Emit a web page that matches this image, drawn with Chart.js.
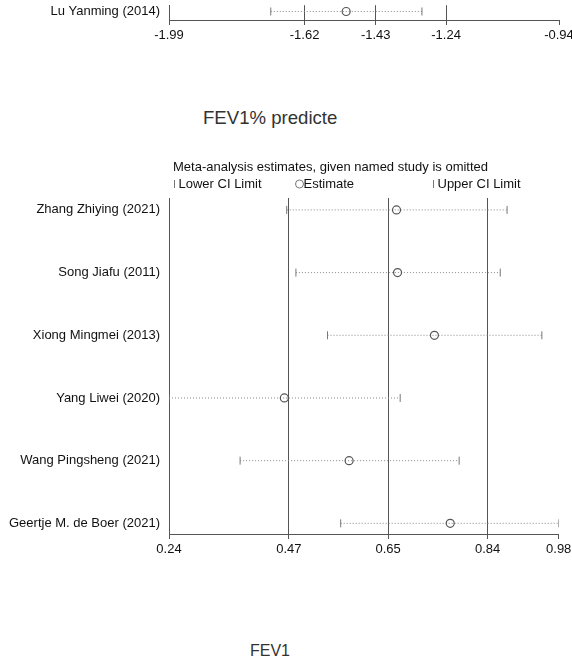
<!DOCTYPE html>
<html>
<head>
<meta charset="utf-8">
<title>Sensitivity analysis - FEV1% predicted</title>
<script src="https://cdn.jsdelivr.net/npm/chart.js@4.4.1/dist/chart.umd.min.js"></script>
<style>
  body { margin: 0; background: #fff; width: 572px; height: 662px; position: relative; overflow: hidden;
         font-family: "Liberation Sans", Arial, sans-serif; }
  .wrap { position: absolute; left: 0; }
  .caption { position: absolute; color: #333; white-space: nowrap; line-height: 1; }
</style>
</head>
<body>
<div class="wrap" style="top:0;"><canvas id="topChart" width="572" height="46"></canvas></div>
<div class="caption" style="left:203px; top:109px; font-size:18.6px;">FEV1% predicte</div>
<div class="wrap" style="top:150px;"><canvas id="mainChart" width="572" height="420"></canvas></div>
<div class="caption" style="left:250px; top:643px; font-size:16px;">FEV1</div>
<script>
// previous panel, only its last row is still visible at the top
const topStudies = ['Lu Yanming (2014)'];
const topEstimate = [-1.513];
const topLower = [-1.716];
const topUpper = [-1.309];
const topTickValues = [-1.99, -1.625, -1.4335, -1.244, -0.94];
const topTickLabels = ['-1.99', '-1.62', '-1.43', '-1.24', '-0.94'];

// FEV1% predicted panel
const studies = [
  'Zhang Zhiying (2021)',
  'Song Jiafu (2011)',
  'Xiong Mingmei (2013)',
  'Yang Liwei (2020)',
  'Wang Pingsheng (2021)',
  'Geertje M. de Boer (2021)'
];
const estimate = [0.672, 0.674, 0.744, 0.459, 0.582, 0.774];
const lowerCI  = [0.4635, 0.481, 0.541, 0.24, 0.375, 0.566];
const upperCI  = [0.882, 0.869, 0.948, 0.679, 0.791, 0.98];
const tickValues = [0.24, 0.4675, 0.656, 0.845, 0.98];
const tickLabels = ['0.24', '0.47', '0.65', '0.84', '0.98'];
const plotTitle = 'Meta-analysis estimates, given named study is omitted';
const legendLabels = ['Lower CI Limit', 'Estimate', 'Upper CI Limit'];

const FONT = '"Liberation Sans", Arial, sans-serif';
const AXIS = '#555';
const CI = '#8a8a8a';

// one dotted segment per study, split by null points
function ciPoints(lo, hi) {
  const pts = [];
  lo.forEach((l, i) => {
    pts.push({ x: l, y: i }, { x: hi[i], y: i }, { x: null, y: i });
  });
  return pts;
}

function buildChart(canvas, cfg) {
  const xMin = cfg.ticks[0], xMax = cfg.ticks[cfg.ticks.length - 1];
  return new Chart(canvas, {
    type: 'scatter',
    data: {
      datasets: [
        {
          data: cfg.est.map((v, i) => ({ x: v, y: i })),
          pointStyle: 'circle',
          pointRadius: 4,
          pointBorderWidth: 1.2,
          pointBorderColor: '#555',
          pointBackgroundColor: 'rgba(0,0,0,0)'
        },
        {
          data: ciPoints(cfg.lo, cfg.hi),
          showLine: true,
          spanGaps: false,
          borderColor: CI,
          borderWidth: 1,
          borderDash: [1, 2],
          pointStyle: 'line',
          rotation: 90,
          pointRadius: 4,
          pointBorderWidth: 1,
          pointBorderColor: '#777'
        }
      ]
    },
    options: {
      responsive: false,
      animation: false,
      layout: { padding: cfg.padding },
      plugins: { legend: { display: false }, tooltip: { enabled: false } },
      scales: {
        x: {
          type: 'linear',
          min: xMin,
          max: xMax,
          afterBuildTicks: (scale) => { scale.ticks = cfg.ticks.map(v => ({ value: v })); },
          afterFit: (scale) => { scale.height = cfg.xHeight; scale.paddingLeft = 0; scale.paddingRight = 0; },
          ticks: {
            autoSkip: false,
            maxRotation: 0,
            padding: 3,
            color: '#111',
            font: { family: FONT, size: 13 },
            callback: (v, i) => cfg.labels[i]
          },
          grid: {
            color: (ctx) => (ctx.tick && (ctx.tick.value === xMin || ctx.tick.value === xMax)) ? 'rgba(0,0,0,0)' : AXIS,
            tickColor: AXIS,
            tickLength: 5,
            lineWidth: 1
          },
          border: { display: true, color: AXIS, width: 1 }
        },
        y: {
          type: 'linear',
          reverse: true,
          min: cfg.yMin,
          max: cfg.yMax,
          afterBuildTicks: (scale) => { scale.ticks = cfg.rows.map((r, i) => ({ value: i })); },
          afterFit: (scale) => { scale.width = 169; scale.paddingTop = 0; scale.paddingBottom = 0; },
          ticks: {
            autoSkip: false,
            padding: 9,
            color: '#111',
            font: { family: FONT, size: 13 },
            callback: (v) => cfg.rows[v]
          },
          grid: { display: false, drawTicks: false },
          border: { display: true, color: AXIS, width: 1 }
        }
      }
    },
    plugins: cfg.plugins || []
  });
}

// title and legend above the plot area
const headerPlugin = {
  id: 'header',
  afterDraw(chart) {
    const { ctx, chartArea } = chart;
    const left = chartArea.left, top = chartArea.top;
    const y = top - 14;
    ctx.save();
    ctx.font = '13px ' + FONT;
    ctx.textBaseline = 'middle';
    ctx.fillStyle = '#111';
    ctx.fillText(plotTitle, left + 4, top - 31);

    ctx.strokeStyle = '#777';
    ctx.lineWidth = 1;
    // lower limit mark
    ctx.beginPath();
    ctx.moveTo(left + 5.5, y - 4); ctx.lineTo(left + 5.5, y + 4);
    ctx.stroke();
    ctx.fillText(legendLabels[0], left + 9.5, y);
    // estimate circle
    ctx.beginPath();
    ctx.arc(left + 130.5, y, 4, 0, Math.PI * 2);
    ctx.stroke();
    ctx.fillText(legendLabels[1], left + 134.5, y);
    // upper limit mark
    ctx.beginPath();
    ctx.moveTo(left + 264.5, y - 4); ctx.lineTo(left + 264.5, y + 4);
    ctx.stroke();
    ctx.fillText(legendLabels[2], left + 268.5, y);
    ctx.restore();
  }
};

buildChart(document.getElementById('topChart'), {
  rows: topStudies, est: topEstimate, lo: topLower, hi: topUpper,
  ticks: topTickValues, labels: topTickLabels,
  yMin: -0.136, yMax: 0.183,
  xHeight: 26,
  padding: { top: 0, right: 13, bottom: 0, left: 0 }
});

buildChart(document.getElementById('mainChart'), {
  rows: studies, est: estimate, lo: lowerCI, hi: upperCI,
  ticks: tickValues, labels: tickLabels,
  yMin: -0.19, yMax: 5.17,
  xHeight: 30,
  padding: { top: 48, right: 13.3, bottom: 6, left: 0 },
  plugins: [headerPlugin]
});
</script>
</body>
</html>
